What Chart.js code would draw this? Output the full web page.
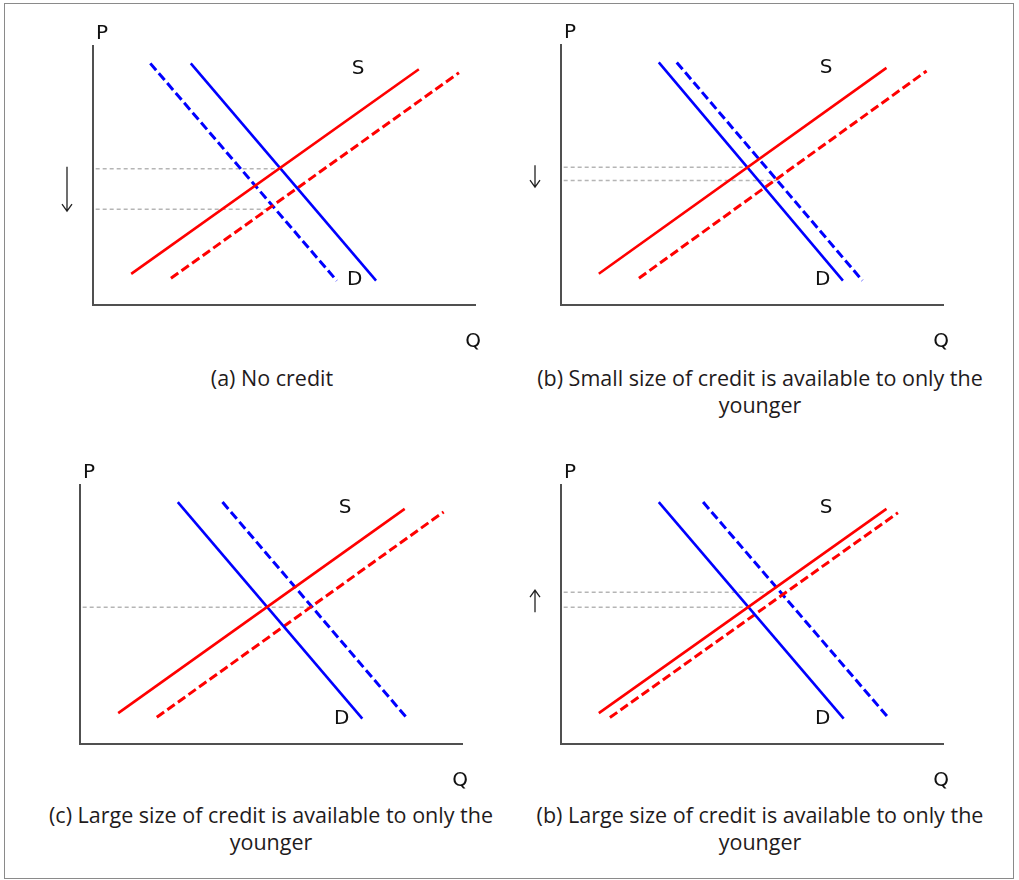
<!DOCTYPE html>
<html>
<head>
<meta charset="utf-8">
<title>Credit and supply/demand</title>
<script src="https://cdn.jsdelivr.net/npm/chart.js@4.4.1/dist/chart.umd.min.js"></script>
<style>
  html, body { margin: 0; padding: 0; background: #fff; }
  #page { position: relative; width: 1019px; height: 880px; overflow: hidden; }
  .frame { position: absolute; left: 4px; top: 3px; width: 1008px; height: 874px; border: 1.5px solid #8a8a8a; }
  .panel { position: absolute; }
  .caption {
    position: absolute; width: 500px; text-align: center; white-space: nowrap;
    font-family: "Open Sans", sans-serif; font-size: 21.5px; line-height: 27px; color: #1f1b1c;
  }
</style>
</head>
<body>
<div id="page">
  <div class="frame"></div>
  <canvas id="chartA" class="panel"></canvas>
  <canvas id="chartB" class="panel"></canvas>
  <canvas id="chartC" class="panel"></canvas>
  <canvas id="chartD" class="panel"></canvas>
  <div class="caption" style="left:22px; top:364px;">(a) No credit</div>
  <div class="caption" style="left:510px; top:364px;">(b) Small size of credit is available to only the<br>younger</div>
  <div class="caption" style="left:21px; top:801px;">(c) Large size of credit is available to only the<br>younger</div>
  <div class="caption" style="left:510px; top:801px;">(b) Large size of credit is available to only the<br>younger</div>
</div>
<script>
// all curves in axis units: quantity 0..100 across, price 0..100 up
// (a) No credit
const aSupply = [[10, 12], [85.3, 91]];
const aSupplyNew = [[20.4, 10.3], [95.8, 89.7]];
const aDemand = [[25.6, 93.3], [74.1, 9.4]];
const aDemandNew = [[15, 93.3], [63.8, 9.4]];
const aPrices = [52.6, 37];
const aPriceEnds = [49, 46.5];

// (b) Small credit, younger only
const bSupply = [[9.9, 12], [85.2, 91.2]];
const bSupplyNew = [[20.4, 10.3], [95.7, 90]];
const bDemand = [[25.6, 93.3], [73.8, 9.4]];
const bDemandNew = [[30.3, 93.3], [78.9, 9.4]];
const bPrices = [53, 47.9];
const bPriceEnds = [48.6, 56.4];

// (c) Large credit, younger only
const cSupply = [[10, 11.9], [85, 90.8]];
const cSupplyNew = [[20.1, 10.3], [95.2, 89.6]];
const cDemand = [[25.6, 93.4], [73.9, 9.8]];
const cDemandNew = [[37.3, 93.4], [85.7, 9.8]];
const cPrices = [52.8];
const cPriceEnds = [60.9];

// (d) Large credit, younger only (second case)
const dSupply = [[9.9, 11.9], [85.2, 90.8]];
const dSupplyNew = [[12.8, 10.2], [88.2, 89.3]];
const dDemand = [[25.6, 93.4], [74, 9.8]];
const dDemandNew = [[37.2, 93.4], [85.9, 9.8]];
const dPrices = [58.6, 52.8];
const dPriceEnds = [55.5, 48.7];

const curveLabels = [['S', 69.4, 91.2], ['D', 68.5, 9.6]];

// axis boxes on the page: left, top, width, height
const panels = [
  { id: 'chartA', box: [93, 46, 382, 259], s: aSupply, s2: aSupplyNew, d: aDemand, d2: aDemandNew, p: aPrices, pe: aPriceEnds, arrow: 'down' },
  { id: 'chartB', box: [561, 45, 382, 260], s: bSupply, s2: bSupplyNew, d: bDemand, d2: bDemandNew, p: bPrices, pe: bPriceEnds, arrow: 'down' },
  { id: 'chartC', box: [80, 485, 382, 259], s: cSupply, s2: cSupplyNew, d: cDemand, d2: cDemandNew, p: cPrices, pe: cPriceEnds, arrow: null },
  { id: 'chartD', box: [561, 485, 382, 259], s: dSupply, s2: dSupplyNew, d: dDemand, d2: dDemandNew, p: dPrices, pe: dPriceEnds, arrow: 'up' },
];

const pad = { left: 50, top: 30, right: 30, bottom: 55 };

function curve(points, color, dashed) {
  return {
    data: points.map(p => ({ x: p[0], y: p[1] })),
    showLine: true,
    borderColor: color,
    borderWidth: dashed ? 3 : 2.6,
    borderDash: dashed ? [9, 4] : [],
    pointRadius: 0,
    pointHoverRadius: 0,
    tension: 0,
    fill: false,
  };
}

function priceLine(price, end) {
  return {
    data: [{ x: 0.7, y: price }, { x: end, y: price }],
    showLine: true,
    borderColor: '#b5b5b5',
    borderWidth: 1.5,
    borderDash: [4, 3],
    pointRadius: 0,
    pointHoverRadius: 0,
    fill: false,
  };
}

// P, Q, S, D and the price arrow
const sketchLabels = {
  id: 'sketchLabels',
  afterDraw(chart, args, opts) {
    const { ctx, chartArea: ca, scales: { x, y } } = chart;
    ctx.save();
    ctx.fillStyle = '#111';
    ctx.font = '20px "DejaVu Sans"';
    ctx.textAlign = 'center';
    ctx.textBaseline = 'middle';
    ctx.fillText('P', ca.left + 9, ca.top - 12);
    ctx.fillText('Q', ca.right - 2, ca.bottom + 37);
    curveLabels.forEach(([t, qx, py]) => {
      ctx.fillText(t, x.getPixelForValue(qx), y.getPixelForValue(py));
    });

    if (opts.arrow) {
      const top = y.getPixelForValue(Math.max(...opts.prices)) - 2;
      const bottom = Math.max(y.getPixelForValue(Math.min(...opts.prices)) + 2, top + 22);
      const ax = ca.left - 26;
      ctx.strokeStyle = '#222';
      ctx.lineWidth = 1.3;
      ctx.beginPath();
      ctx.moveTo(ax, top);
      ctx.lineTo(ax, bottom);
      const tip = opts.arrow === 'down' ? bottom : top;
      const back = opts.arrow === 'down' ? -7 : 7;
      ctx.moveTo(ax - 5, tip + back);
      ctx.lineTo(ax, tip);
      ctx.lineTo(ax + 5, tip + back);
      ctx.stroke();
    }
    ctx.restore();
  }
};

panels.forEach(panel => {
  const [left, top, w, h] = panel.box;
  const canvas = document.getElementById(panel.id);
  canvas.width = w + pad.left + pad.right;
  canvas.height = h + pad.top + pad.bottom;
  canvas.style.left = (left - pad.left) + 'px';
  canvas.style.top = (top - pad.top) + 'px';

  const datasets = [
    curve(panel.s, '#ff0000', false),
    curve(panel.d, '#0000ff', false),
    curve(panel.s2, '#ff0000', true),
    curve(panel.d2, '#0000ff', true),
    ...panel.p.map((price, i) => priceLine(price, panel.pe[i])),
  ];

  new Chart(canvas, {
    type: 'scatter',
    data: { datasets },
    options: {
      responsive: false,
      animation: false,
      events: [],
      layout: { padding: pad },
      plugins: {
        legend: { display: false },
        tooltip: { enabled: false },
        sketchLabels: { arrow: panel.arrow, prices: panel.p },
      },
      scales: {
        x: {
          type: 'linear', min: 0, max: 100,
          grid: { display: false, drawTicks: false },
          ticks: { display: false },
          border: { display: true, color: '#505050', width: 2 },
        },
        y: {
          type: 'linear', min: 0, max: 100,
          grid: { display: false, drawTicks: false },
          ticks: { display: false },
          border: { display: true, color: '#505050', width: 2 },
        },
      },
    },
    plugins: [sketchLabels],
  });
});
</script>
</body>
</html>
